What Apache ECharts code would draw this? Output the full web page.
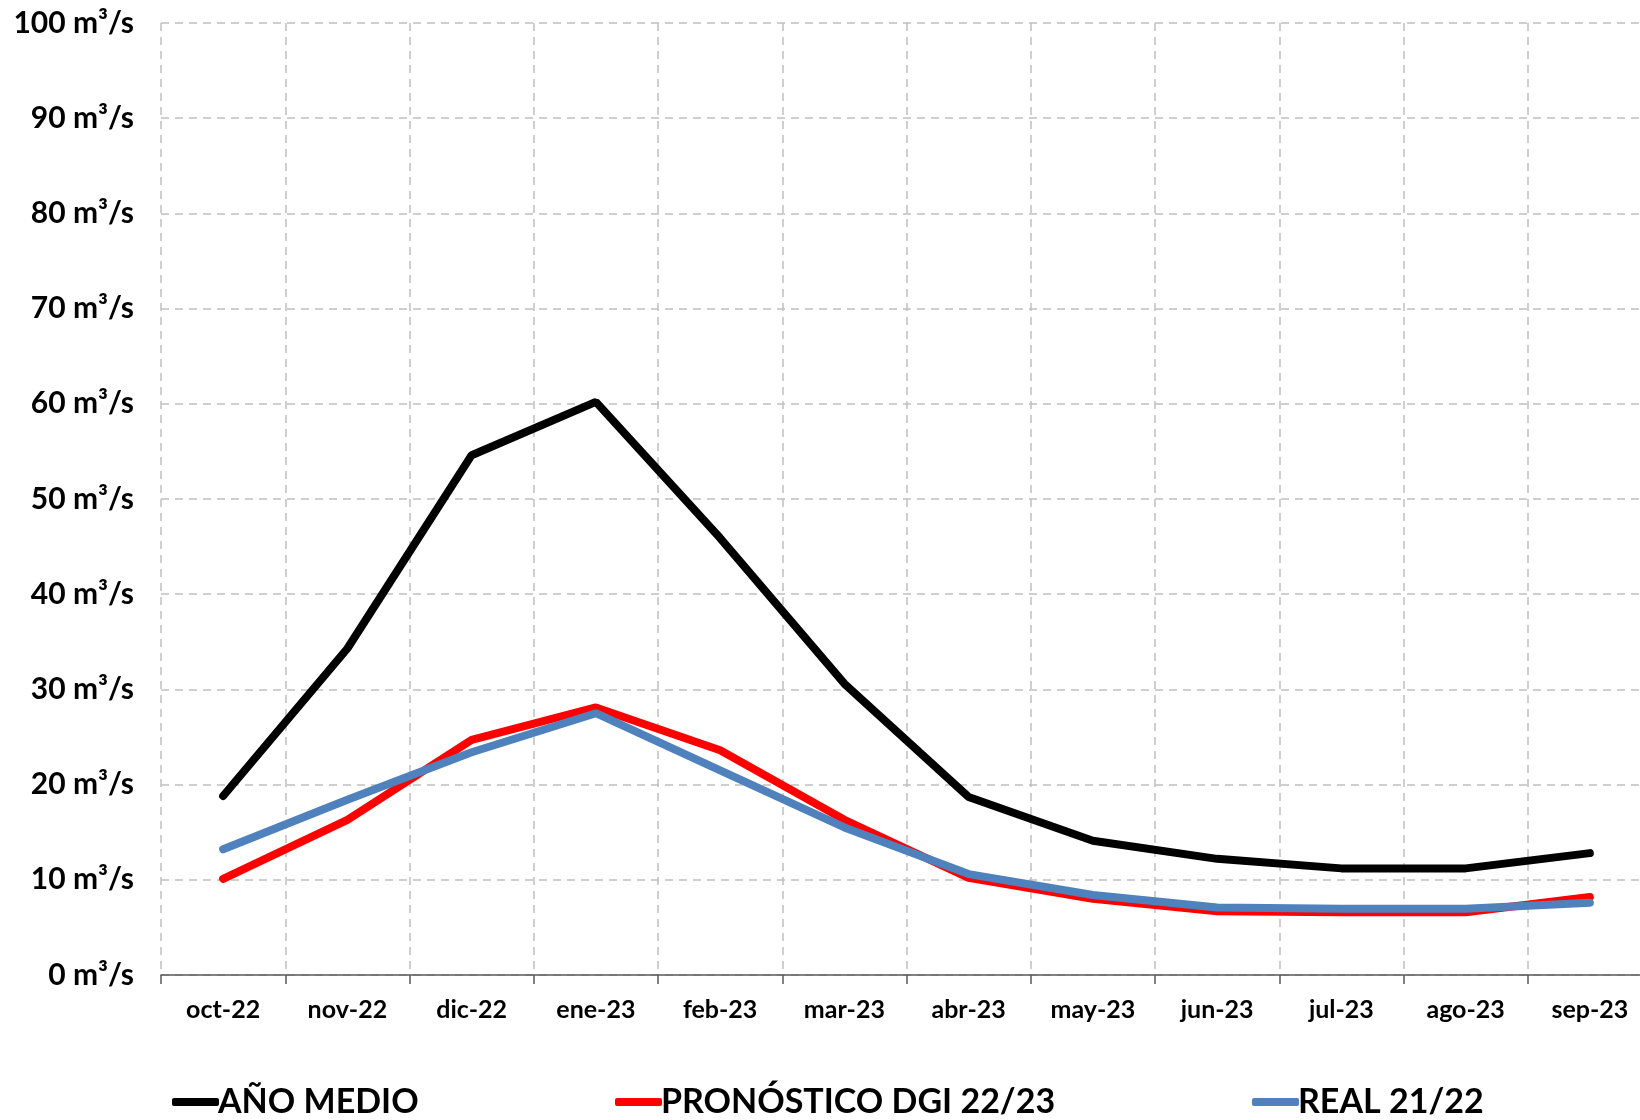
<!DOCTYPE html>
<html>
<head>
<meta charset="utf-8">
<script src="https://cdn.jsdelivr.net/npm/echarts@6/dist/echarts.min.js"></script>
<style>
html,body{margin:0;padding:0;background:#fff;overflow:hidden;}
#chart{width:1652px;height:1120px;}
</style>
</head>
<body>
<div id="chart"></div>
<script>
const categories = ['oct-22','nov-22','dic-22','ene-23','feb-23','mar-23','abr-23','may-23','jun-23','jul-23','ago-23','sep-23'];
const anoMedio = [18.8, 34.3, 54.6, 60.2, 45.9, 30.6, 18.7, 14.1, 12.2, 11.2, 11.2, 12.8];
const pronostico = [10.1, 16.3, 24.7, 28.1, 23.6, 16.3, 10.2, 8.0, 6.7, 6.6, 6.6, 8.2];
const real = [13.2, 18.4, 23.4, 27.5, 21.5, 15.5, 10.6, 8.4, 7.1, 6.95, 6.95, 7.6];
const seriesNames = ['AÑO MEDIO', 'PRONÓSTICO DGI 22/23', 'REAL 21/22'];
const colors = ['#000000', '#FF0000', '#4F81BD'];

const chart = echarts.init(document.getElementById('chart'));
const font = 'Lato, "Open Sans", sans-serif';
const legendLefts = [172, 615, 1252];
const option = {
  animation: false,
  grid: {left: 161, right: 0, top: 23, bottom: 145, containLabel: false},
  legend: seriesNames.map((n, i) => ({
    data: [n],
    left: legendLefts[i],
    top: 1085,
    padding: 0,
    icon: 'roundRect',
    itemWidth: 47,
    itemHeight: 8,
    textStyle: {fontFamily: font, fontWeight: 'bold', fontSize: 34, color: '#000', padding: [0, 0, 0, -6]}
  })),
  xAxis: {
    type: 'category',
    data: categories,
    boundaryGap: true,
    axisLine: {show: true, lineStyle: {color: '#595959', width: 1.5}},
    axisTick: {show: true, length: 9, lineStyle: {color: '#595959', width: 1.5}},
    axisLabel: {fontFamily: font, fontWeight: 'bold', fontSize: 25, color: '#000', margin: 22},
    splitLine: {show: true, lineStyle: {color: '#c0c0c0', width: 1.5, type: [8, 6]}}
  },
  yAxis: {
    type: 'value',
    min: 0, max: 100, interval: 10,
    axisLine: {show: false},
    axisTick: {show: false},
    axisLabel: {fontFamily: font, fontWeight: 'bold', fontSize: 30, color: '#000', margin: 27,
      formatter: v => v + ' m³/s'},
    splitLine: {show: true, lineStyle: {color: '#c0c0c0', width: 1.5, type: [8, 6]}}
  },
  series: [
    {name: seriesNames[0], data: anoMedio},
    {name: seriesNames[1], data: pronostico},
    {name: seriesNames[2], data: real}
  ].map((s, i) => ({
    ...s,
    type: 'line',
    symbol: 'none',
    smooth: false,
    color: colors[i],
    lineStyle: {color: colors[i], width: 8, cap: 'round'},
    z: 2 + i
  }))
};
chart.setOption(option);
</script>
</body>
</html>
